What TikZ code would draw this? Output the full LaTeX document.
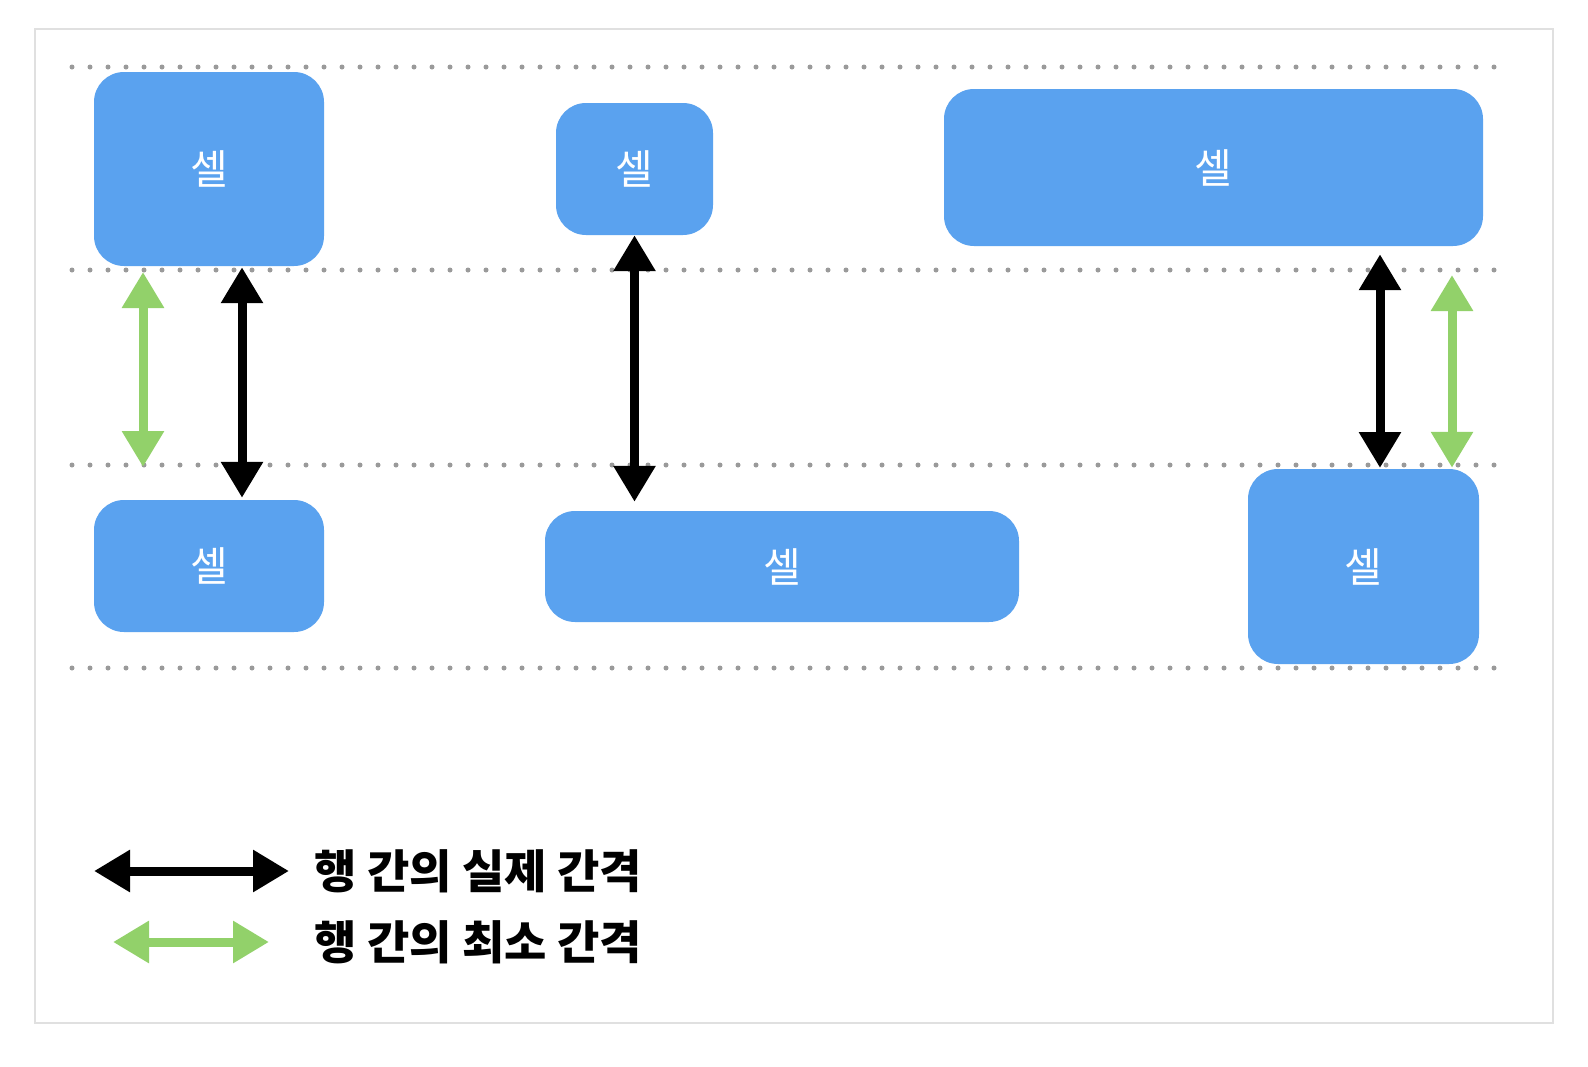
\documentclass[tikz,border=0pt]{standalone}
\usepackage{fontspec}
\newfontfamily\cjkfont{Noto Sans CJK KR}
\usetikzlibrary{arrows.meta}
\definecolor{cellBlue}{HTML}{5AA2EF}
\definecolor{minGreen}{HTML}{92D16A}
\definecolor{dotGray}{HTML}{9A9A9A}
\definecolor{frameGray}{HTML}{E0E0E0}
\begin{document}
\begin{tikzpicture}[x=1pt,y=-1pt]
\tikzstyle{cell}=[rectangle,rounded corners=30pt,fill=cellBlue,text=white,inner sep=0pt,font=\cjkfont\fontsize{41}{41}\selectfont]
\tikzstyle{rowLine}=[dotGray,line width=5pt,line cap=round,dash pattern=on 0pt off 18pt]
\tikzstyle{actualGap}=[black,line width=9pt,{Triangle[width=40pt,length=36pt]}-{Triangle[width=40pt,length=36pt]}]
\tikzstyle{minGap}=[minGreen,line width=9pt,{Triangle[width=40pt,length=36pt]}-{Triangle[width=40pt,length=36pt]}]
\tikzstyle{legendText}=[anchor=west,inner sep=0pt,font=\cjkfont\bfseries\fontsize{46}{46}\selectfont]
\useasboundingbox[fill=white] (0,0) rectangle (1588,1066);
\draw[frameGray,line width=2pt] (35,29) rectangle (1553,1023);

%Row lines
\coordinate (lineA) at (72,67);
\coordinate (lineB) at (72,270);
\coordinate (lineC) at (72,465);
\coordinate (lineD) at (72,668);
\foreach \l in {lineA,lineB,lineC,lineD}
  \draw[rowLine] (\l) -- ++(1426,0);

%top row cells
\node[cell,minimum width=230pt,minimum height=194pt] (cellA) at (209,169) {셀};
\node[cell,minimum width=157pt,minimum height=132pt] (cellB) at (634.5,169) {셀};
\node[cell,minimum width=539pt,minimum height=157pt] (cellC) at (1213.5,167.5) {셀};

%bottom row cells
\node[cell,minimum width=230pt,minimum height=132pt] (cellD) at (209,566) {셀};
\node[cell,minimum width=474pt,minimum height=111pt] (cellE) at (782,566.5) {셀};
\node[cell,minimum width=231pt,minimum height=195pt] (cellF) at (1363.5,566.5) {셀};

%gaps
\draw[minGap] (lineB -| 143,0) ++(0,2) -- ([yshift=-2pt]lineC -| 143,0);
\draw[actualGap] ([xshift=33pt,yshift=-1pt]cellA.south) -- ([xshift=33pt,yshift=2pt]cellD.north);
\draw[actualGap] (cellB.south) -- ([yshift=9pt]cellE.north -| cellB.south);
\draw[actualGap] ([xshift=166.5pt,yshift=-8pt]cellC.south) -- ([yshift=-3pt]lineC -| 1380,0);
\draw[minGap] ([yshift=-5pt]lineB -| 1452,0) -- ([xshift=88.5pt,yshift=1pt]cellF.north);

%Legend
\coordinate (actualL) at (94,871);
\coordinate (actualR) at (289,871);
\coordinate (minL) at (113,942);
\coordinate (minR) at (269,942);
\draw[actualGap] (actualL) -- (actualR);
\draw[minGap] (minL) -- (minR);
\node[legendText] (actualText) at (314,871) {행 간의 실제 간격};
\node[legendText] (minText) at (314,942) {행 간의 최소 간격};

\end{tikzpicture}
\end{document}
